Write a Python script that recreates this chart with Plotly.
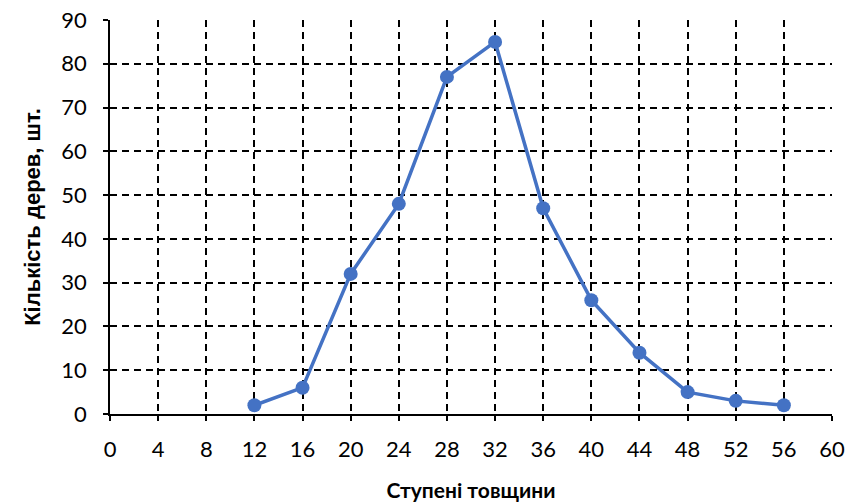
import plotly.graph_objects as go

x_vals = [12, 16, 20, 24, 28, 32, 36, 40, 44, 48, 52, 56]
y_vals = [2, 6, 32, 48, 77, 85, 47, 26, 14, 5, 3, 2]
x_title = "Ступені товщини"
y_title = "Кількість дерев, шт."

fig = go.Figure()
fig.add_trace(go.Scatter(
    x=x_vals, y=y_vals, mode="lines+markers",
    line=dict(color="#4472C4", width=3.5),
    marker=dict(color="#4472C4", size=14),
    showlegend=False,
))

common = dict(
    showgrid=True, gridcolor="black", gridwidth=1.5, griddash="7px,5px",
    showline=True, linecolor="black", linewidth=1.5,
    ticks="outside", ticklen=5, tickcolor="black", tickwidth=1.5,
    zeroline=False, automargin=False,
    tickfont=dict(family="Lato, Carlito, Calibri, sans-serif", size=22, color="black"),
)

fig.update_xaxes(range=[0, 60], dtick=4, tick0=0, ticklabelstandoff=10,
                 title=dict(text=x_title, font=dict(family="Lato, sans-serif", size=21, color="black", weight="bold"), standoff=22),
                 **common)
fig.update_yaxes(range=[0, 90], dtick=10, tick0=0, ticklabelstandoff=12,
                 title=dict(text=y_title, font=dict(family="Liberation Sans, Arial, sans-serif", size=22, color="black", weight="bold"), standoff=15),
                 **common)

fig.update_layout(
    width=868, height=502,
    margin=dict(l=110, r=36, t=20, b=88),
    plot_bgcolor="white", paper_bgcolor="white",
)

fig.write_html("out.html")
